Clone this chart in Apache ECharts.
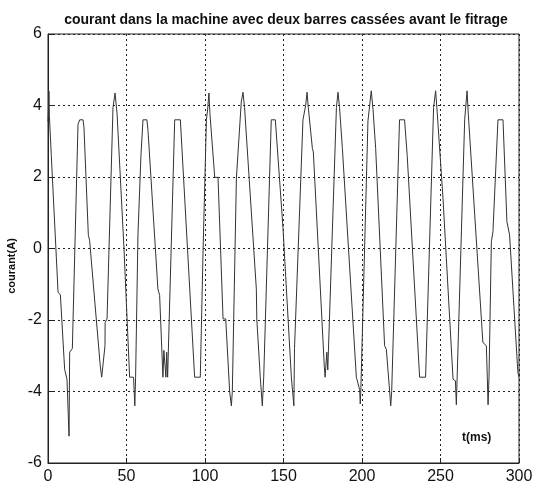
<!DOCTYPE html>
<html>
<head>
<meta charset="utf-8">
<script src="https://cdn.jsdelivr.net/npm/echarts@6/dist/echarts.min.js"></script>
<style>
  html, body { margin: 0; padding: 0; background: #fff; }
  #chart { width: 536px; height: 489px; }
</style>
</head>
<body>
<div id="chart"></div>
<script>
// temps (ms) et courant (A)
const timeMs = [
  0, 0.3, 0.6, 0.9, 2.1, 6.4, 7.9, 10.6, 12.1, 13.4, 13.8, 15.5, 19.1, 20.2, 22.3, 22.9, 25.7, 26.5,
  33.3, 34.2, 35.4, 36.3, 36.4, 37.6, 41.4, 42.7, 44, 48.4, 52, 54.5, 55.3, 55.8, 57.3, 58.4, 59.2,
  60.5, 63, 63.7, 70, 71.1, 73.2, 73.8, 74.5, 75.1, 75.6, 76.2, 77.3, 80.7, 84.3, 93.4, 97, 98.8,
  100.9, 101.7, 102.5, 103.1, 106.2, 108.3, 111.5, 113.2, 115.7, 116.8, 117.4, 120, 123.1, 124.2,
  125.2, 132.7, 133, 135.2, 136.5, 137.4, 142.2, 144.8, 149.7, 155, 156.2, 156.6, 157, 157.8, 162.4,
  164.1, 165, 165.8, 168.4, 169, 176, 176.5, 177.3, 177.6, 178.2, 183.7, 184.7, 185.7, 187.5, 196.4,
  198.5, 198.9, 199.3, 203.8, 205.9, 207, 208.7, 214.4, 215.5, 217.6, 218.3, 218.9, 223.9, 227.1,
  228.8, 236.7, 240.5, 245.6, 246.9, 247.7, 251.6, 258, 259.5, 260.1, 260.6, 265.4, 266.9, 267.7,
  277, 279.2, 279.8, 280.3, 280.9, 282.4, 283.4, 286.6, 289.8, 292.3, 294, 299.3, 300
];
const currentA = [
  3.55, 3.9, 4.4, 3.7, 2.6, -1.22, -1.3, -3.38, -3.66, -5.25, -2.9, -2.8, 3.47, 3.6, 3.6, 3.4, 0.37, 0.23,
  -3.29, -3.6, -3.6, -2.72, -2.07, -1.97, 3.94, 4.35, 3.76, 0, -3.6, -3.6, -4.4, -3.6, 0.38, 0.42, 2.6,
  3.6, 3.6, 3.3, -1.13, -1.31, -3.6, -2.85, -2.85, -3.6, -2.9, -3.6, -3.6, 3.6, 3.6, -3.6, -3.6, 0,
  3.6, 3.9, 4.35, 3.8, 1.99, 1.99, -1.97, -1.97, -4, -4.4, -4, 1.97, 4.1, 4.37,
  3.94, -1.13, -1.97, -3.6, -4.4, -3.6, 3.6, 3.6, 0.56, -3.6, -3.6, -4.4, -2.8, -2.8, 3.6,
  4, 4.37, 3.94, 2.8, 2.7, -3.3, -3.6, -3.6, -2.9, -3.4, 3.94, 4.37, 3.94, 2.8, -3.6,
  -3.95, -4.35, -3.9, 3.57, 4.41, 3.9, 2.8, -2.72, -2.82, -3.99, -4.4, -4, 3.6, 3.6,
  2.6, -3.6, -3.6, 3.94, 4.41, 3.94, 1.4, -3.66, -3.7, -4.37, -3.6, 3.6, 4.41, 3.76,
  -2.63, -2.72, -3.6, -4.37, -3.6, 0.19, 0.47, 3.6, 3.6, 0.75, 0.38, -3.47, -3.6
];
const xTicks = [0, 50, 100, 150, 200, 250, 300];
const yTicks = [-6, -4, -2, 0, 2, 4, 6];

const chart = echarts.init(document.getElementById('chart'));

const font = '"Liberation Sans", Arial, sans-serif';
const dotted = { show: true, lineStyle: { color: '#222', type: [2, 3], width: 1 } };

const option = {
  animation: false,
  backgroundColor: '#fff',
  title: {
    text: 'courant dans la machine avec deux barres cassées avant le fitrage',
    left: 281,
    textAlign: 'center',
    top: 8,
    textStyle: { fontFamily: font, fontSize: 14, fontWeight: 'bold', color: '#111' }
  },
  grid: {
    left: 48, right: 17, top: 34, bottom: 26,
    show: true, borderColor: '#222', borderWidth: 1, backgroundColor: 'transparent'
  },
  xAxis: {
    type: 'value',
    min: xTicks[0], max: xTicks[xTicks.length - 1], interval: 50,
    axisLine: { show: true, onZero: false, lineStyle: { color: '#222' } },
    axisTick: { show: true, inside: true, length: 5, lineStyle: { color: '#222' } },
    axisLabel: { fontFamily: font, fontSize: 16, color: '#111', margin: 6 },
    splitLine: dotted
  },
  yAxis: {
    type: 'value',
    min: yTicks[0], max: yTicks[yTicks.length - 1], interval: 2,
    axisLine: { show: true, onZero: false, lineStyle: { color: '#222' } },
    axisTick: { show: true, inside: true, length: 5, lineStyle: { color: '#222' } },
    axisLabel: { fontFamily: font, fontSize: 16, color: '#111', margin: 6 },
    splitLine: dotted
  },
  graphic: [
    {
      // titre de l'axe y, un peu sous le milieu comme sur l'original
      type: 'text',
      x: 12,
      y: 266,
      rotation: Math.PI / 2,
      style: {
        text: 'courant(A)',
        font: 'bold 11px "Liberation Sans", Arial, sans-serif',
        fill: '#111',
        align: 'center',
        verticalAlign: 'middle'
      }
    },
    {
      type: 'text',
      left: 462,
      top: 432,
      style: { text: 't(ms)', font: 'bold 12px "Liberation Sans", Arial, sans-serif', fill: '#111' }
    }
  ],
  series: [{
    type: 'line',
    data: timeMs.map((t, i) => [t, currentA[i]]),
    showSymbol: false,
    lineStyle: { color: '#333', width: 1 },
    z: 3
  }]
};

chart.setOption(option);
</script>
</body>
</html>
